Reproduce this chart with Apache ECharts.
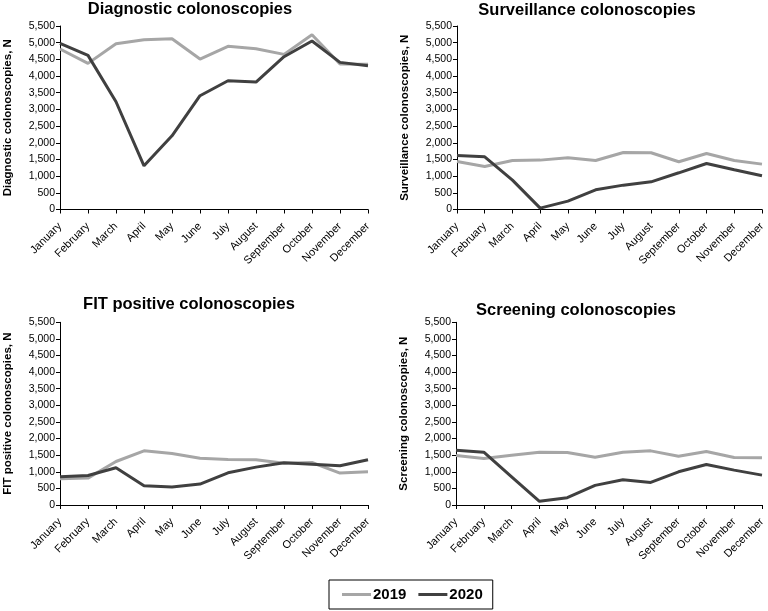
<!DOCTYPE html>
<html>
<head>
<meta charset="utf-8">
<script src="https://cdn.jsdelivr.net/npm/echarts@6/dist/echarts.min.js"></script>
<style>html,body{margin:0;padding:0;background:#fff}#c{width:768px;height:611px}</style>
</head>
<body>
<div id="c"></div>
<script>
const months = ['January','February','March','April','May','June','July','August','September','October','November','December'];
const yTicks = [0,500,1000,1500,2000,2500,3000,3500,4000,4500,5000,5500];
const titles = ['Diagnostic colonoscopies','Surveillance colonoscopies','FIT positive colonoscopies','Screening colonoscopies'];
const yNames = ['Diagnostic colonoscopies, N','Surveillance colonoscopies, N','FIT positive colonoscopies, N','Screening colonoscopies, N'];

const diag2019 = [4810,4380,4970,5090,5120,4510,4890,4820,4650,5240,4360,4350];
const diag2020 = [4980,4620,3230,1310,2210,3410,3860,3820,4580,5050,4410,4310];
const surv2019 = [1440,1290,1470,1480,1550,1470,1710,1700,1430,1680,1470,1360];
const surv2020 = [1620,1580,880,40,250,590,730,830,1100,1380,1190,1010];
const fit2019 = [790,810,1310,1630,1550,1410,1370,1360,1260,1280,960,1000];
const fit2020 = [850,890,1120,580,540,630,970,1140,1270,1230,1180,1360];
const scr2019 = [1490,1400,1500,1590,1580,1440,1590,1630,1470,1610,1430,1420];
const scr2020 = [1650,1590,850,110,220,590,760,680,1000,1220,1050,900];

const data2019 = [diag2019, surv2019, fit2019, scr2019];
const data2020 = [diag2020, surv2020, fit2020, scr2020];

const FONT = 'Liberation Sans';
const grids = [
  {left:60, top:26, width:308, height:183.5},
  {left:457, top:26, width:308, height:183.5},
  {left:60, top:322.3, width:308, height:182.7},
  {left:456, top:322.3, width:309, height:182.7}
];
const titlePos = [[190,1],[587,1.5],[189,296],[576,301.5]];

const option = {
  backgroundColor:'#fff',
  animation:false,
  textStyle:{fontFamily:FONT},
  title: titles.map((t,i)=>({
    text:t, left:titlePos[i][0], top:titlePos[i][1], textAlign:'center', padding:0,
    textStyle:{fontFamily:FONT, fontWeight:'bold', fontSize:16.5, color:'#000'}
  })),
  grid: grids,
  legend:{
    data:['2019','2020'], left:329, top:580,
    padding:[7,10,7,13], itemGap:12, itemWidth:29, itemHeight:3, icon:'rect',
    borderColor:'#000', borderWidth:1,
    textStyle:{fontFamily:FONT, fontWeight:'bold', fontSize:15, color:'#000', padding:[0,0,0,-3]}
  },
  xAxis: grids.map((g,i)=>({
    gridIndex:i, type:'category', data:months, boundaryGap:false,
    axisLine:{lineStyle:{color:'#000', width:1}},
    axisTick:{show:true, alignWithLabel:true, length:4, lineStyle:{color:'#000'}},
    axisLabel:{rotate:45, fontSize:11, color:'#000', fontFamily:FONT, margin:15, interval:0}
  })),
  yAxis: grids.map((g,i)=>({
    gridIndex:i, type:'value', min:0, max:5500, interval:500,
    name:yNames[i], nameLocation:'middle', nameGap:46,
    nameTextStyle:{fontFamily:FONT, fontWeight:'bold', fontSize:11.5, color:'#000'},
    axisLine:{show:true, lineStyle:{color:'#000', width:1}},
    axisTick:{show:true, length:4, lineStyle:{color:'#000'}},
    splitLine:{show:false},
    axisLabel:{fontSize:10.5, color:'#000', fontFamily:FONT, margin:5,
      formatter:v=>yTicks.includes(v)?v.toLocaleString('en-US'):''}
  })),
  series: []
};
for (let i=0;i<4;i++){
  option.series.push({name:'2019', type:'line', xAxisIndex:i, yAxisIndex:i, data:data2019[i],
    showSymbol:false, lineStyle:{color:'#a6a6a6', width:3}, itemStyle:{color:'#a6a6a6'}});
  option.series.push({name:'2020', type:'line', xAxisIndex:i, yAxisIndex:i, data:data2020[i],
    showSymbol:false, lineStyle:{color:'#404040', width:3}, itemStyle:{color:'#404040'}});
}
const chart = echarts.init(document.getElementById('c'), null, {renderer:'canvas'});
chart.setOption(option);
</script>
</body>
</html>
